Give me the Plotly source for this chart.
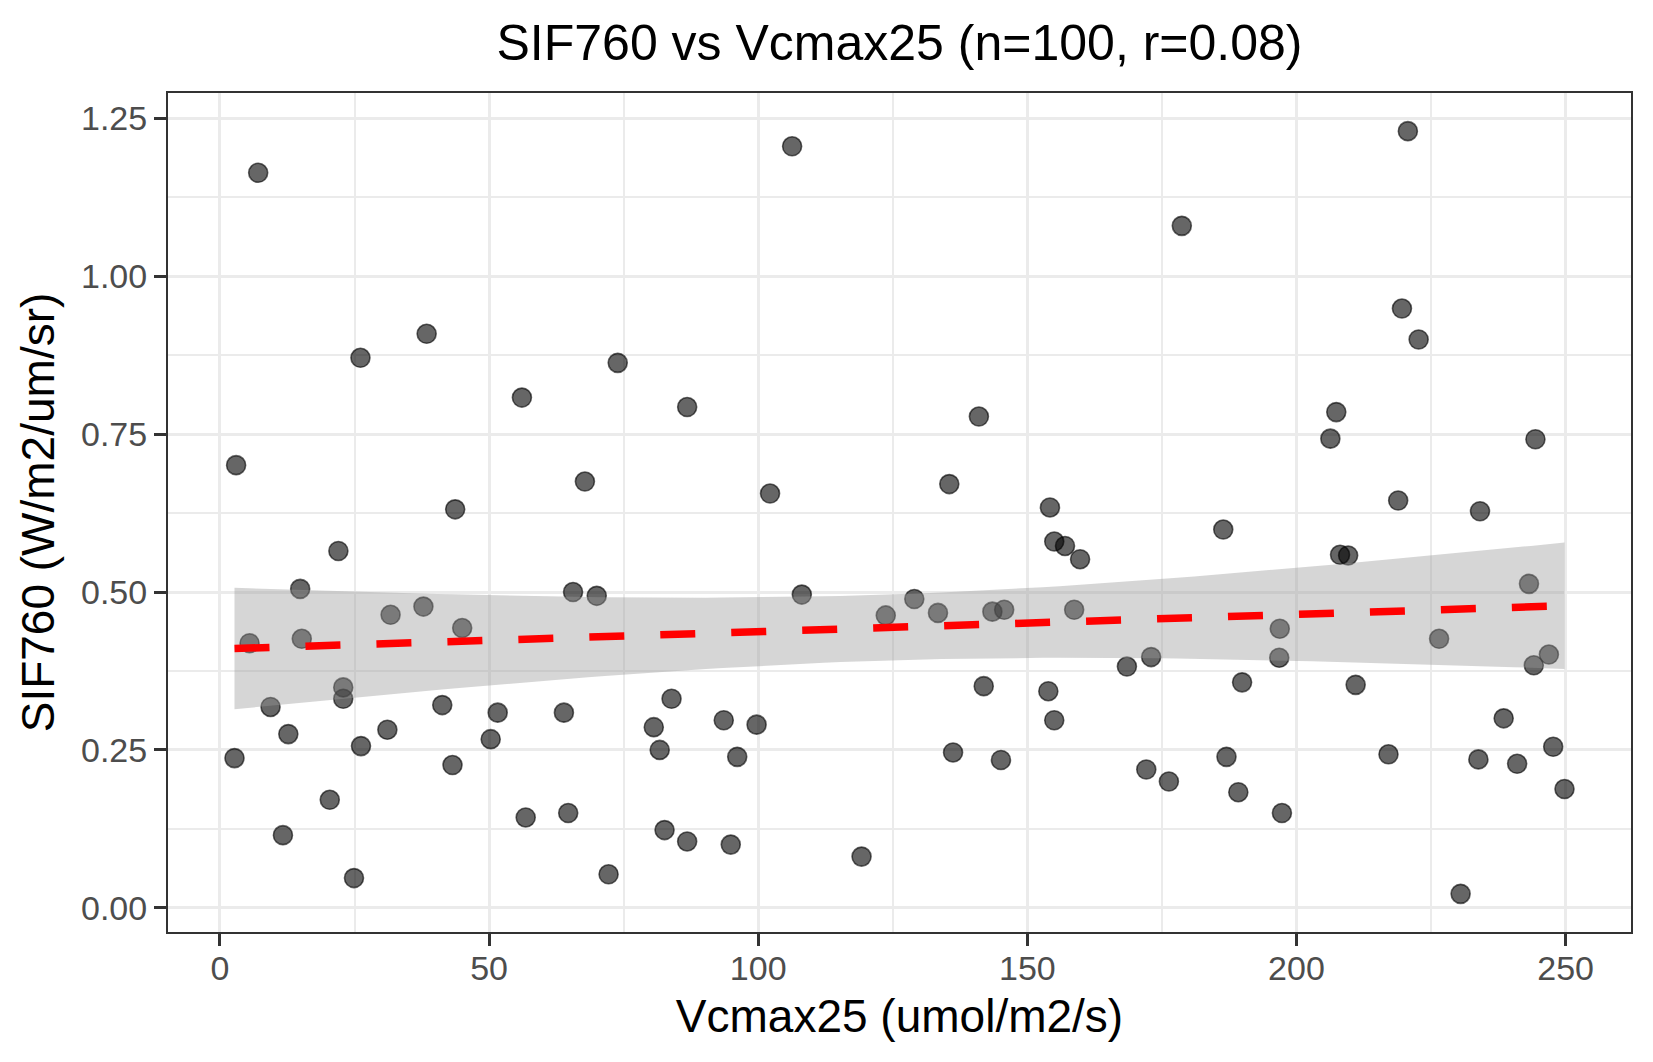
import numpy as np
import plotly.graph_objects as go

# values (x = Vcmax25, y = SIF760)
vcmax25 = [7.1, 26.1, 38.4, 56.1, 3.0, 67.8, 43.7, 22.0, 14.9, 65.6,
           70.0, 37.8, 31.7, 45.0, 5.5, 15.2, 22.9, 22.9, 9.4, 41.3,
           51.6, 63.9, 12.7, 31.1, 50.3, 26.2, 2.7, 43.2, 20.4, 56.8,
           64.7, 11.7, 24.9, 72.2, 106.3, 73.9, 86.8, 141.0, 102.2, 135.5,
           154.2, 155.0, 157.0, 159.8, 108.1, 123.7, 129.0, 133.4, 143.5, 145.7,
           158.7, 83.9, 80.6, 81.7, 93.6, 99.7, 96.1, 141.9, 153.9, 155.0,
           136.2, 145.1, 82.6, 86.8, 94.9, 119.2, 220.7, 178.7, 219.6, 222.7,
           207.4, 206.3, 244.4, 218.9, 234.1, 186.4, 208.1, 209.6, 243.2, 196.9,
           226.5, 173.0, 168.5, 196.8, 246.9, 244.1, 189.9, 211.0, 238.5, 172.1,
           176.3, 187.0, 189.2, 197.3, 217.1, 233.8, 241.0, 247.7, 249.8, 230.5]
sif760 = [1.164, 0.871, 0.909, 0.808, 0.701, 0.675, 0.631, 0.565, 0.505, 0.500,
          0.494, 0.477, 0.464, 0.443, 0.419, 0.426, 0.349, 0.331, 0.318, 0.321,
          0.309, 0.309, 0.275, 0.282, 0.267, 0.256, 0.237, 0.226, 0.171, 0.143,
          0.150, 0.115, 0.047, 0.053, 1.206, 0.863, 0.793, 0.778, 0.656, 0.671,
          0.634, 0.580, 0.573, 0.552, 0.496, 0.463, 0.489, 0.467, 0.469, 0.472,
          0.472, 0.331, 0.286, 0.250, 0.297, 0.290, 0.239, 0.351, 0.343, 0.297,
          0.246, 0.234, 0.123, 0.105, 0.100, 0.081, 1.230, 1.080, 0.949, 0.900,
          0.785, 0.743, 0.742, 0.645, 0.628, 0.599, 0.559, 0.558, 0.513, 0.442,
          0.426, 0.397, 0.382, 0.396, 0.401, 0.384, 0.357, 0.353, 0.300, 0.219,
          0.200, 0.239, 0.183, 0.150, 0.243, 0.235, 0.228, 0.255, 0.188, 0.022]

x_ticks = [0, 50, 100, 150, 200, 250]
y_ticks = [0.0, 0.25, 0.5, 0.75, 1.0, 1.25]

FONT = "Liberation Sans, Arial, sans-serif"
T_975 = 1.9845  # qt(0.975, df=98)
PAGE_PAD = 8  # browser body margin, figure is drawn 8px in from the corner


def lm_band(x, y, n_pts=80):
    # same thing geom_smooth(method="lm") does: fit + 95% confidence band
    x = np.asarray(x)
    y = np.asarray(y)
    n = len(x)
    slope, icpt = np.polyfit(x, y, 1)
    resid = y - (icpt + slope * x)
    s = np.sqrt((resid ** 2).sum() / (n - 2))
    sxx = ((x - x.mean()) ** 2).sum()
    xs = np.linspace(x.min(), x.max(), n_pts)
    fit = icpt + slope * xs
    se = s * np.sqrt(1.0 / n + (xs - x.mean()) ** 2 / sxx)
    return xs, fit, fit - T_975 * se, fit + T_975 * se


def expand(vals, mult=0.05):
    lo, hi = min(vals), max(vals)
    pad = (hi - lo) * mult
    return [lo - pad, hi + pad]


xs, fit, lo, hi = lm_band(vcmax25, sif760)
r = np.corrcoef(vcmax25, sif760)[0, 1]

fig = go.Figure()
fig.add_trace(go.Scatter(x=vcmax25, y=sif760, mode="markers",
                         marker=dict(size=19, color="rgba(0,0,0,0.6)",
                                     line=dict(color="rgba(0,0,0,0.6)", width=1.6)),
                         showlegend=False))
fig.add_trace(go.Scatter(x=xs, y=hi, mode="lines", line=dict(width=0),
                         hoverinfo="skip", showlegend=False))
fig.add_trace(go.Scatter(x=xs, y=lo, mode="lines", line=dict(width=0),
                         fill="tonexty", fillcolor="rgba(153,153,153,0.4)",
                         hoverinfo="skip", showlegend=False))
fig.add_trace(go.Scatter(x=xs, y=fit, mode="lines",
                         line=dict(color="#FF0000", width=7.5, dash="35px,36px"),
                         showlegend=False))

axis_style = dict(showline=True, mirror=True, linecolor="#333333", linewidth=2,
                  ticks="outside", ticklen=12, tickwidth=3, tickcolor="#333333",
                  tickfont=dict(size=34, color="#4D4D4D", family=FONT),
                  showgrid=True, gridcolor="#EBEBEB", gridwidth=3, zeroline=False)

fig.update_xaxes(**axis_style, range=expand(vcmax25), tickvals=x_ticks, ticklabelstandoff=-7,
                 minor=dict(dtick=25, tick0=0, showgrid=True, gridcolor="#EBEBEB", gridwidth=1.6),
                 title=dict(text="Vcmax25 (umol/m2/s)", font=dict(size=46, color="black", family=FONT),
                            standoff=14))
fig.update_yaxes(**axis_style, range=expand(sif760), tickvals=y_ticks, tickformat=".2f",
                 minor=dict(dtick=0.125, tick0=0, showgrid=True, gridcolor="#EBEBEB", gridwidth=1.6),
                 title=dict(text="SIF760 (W/m2/um/sr)", font=dict(size=46, color="black", family=FONT),
                            standoff=12))

fig_w, fig_h = 1653 - PAGE_PAD, 1062 - PAGE_PAD
fig.update_layout(width=fig_w, height=fig_h,
                  margin=dict(l=168 - PAGE_PAD, r=22, t=93 - PAGE_PAD, b=130),
                  paper_bgcolor="white", plot_bgcolor="white",
                  title=dict(text=f"SIF760 vs Vcmax25 (n={len(vcmax25)}, r={r:.2f})",
                             x=0.5, xref="paper", y=1 - (42 - PAGE_PAD) / fig_h, yref="container",
                             xanchor="center", yanchor="middle",
                             font=dict(size=50, color="black", family=FONT)))

fig.write_html("out.html")
